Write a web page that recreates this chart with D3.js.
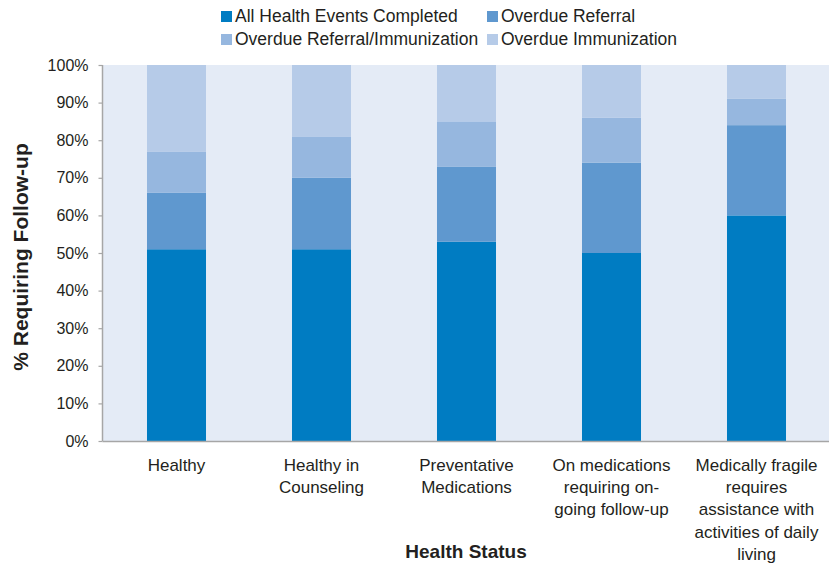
<!DOCTYPE html>
<html>
<head>
<meta charset="utf-8">
<script src="https://cdn.jsdelivr.net/npm/d3@7"></script>
<style>
  html, body { margin: 0; padding: 0; background: #ffffff; }
  svg { display: block; font-family: "Liberation Sans", Arial, Helvetica, sans-serif; }
</style>
</head>
<body>
<svg id="chart" width="833" height="563"></svg>
<script>
// Health status categories (each label split into display lines)
const categories = [
  ["Healthy"],
  ["Healthy in", "Counseling"],
  ["Preventative", "Medications"],
  ["On medications", "requiring on-", "going follow-up"],
  ["Medically fragile", "requires", "assistance with", "activities of daily", "living"]
];

// Series names, bottom to top of each stack
const seriesNames = [
  "All Health Events Completed",
  "Overdue Referral",
  "Overdue Referral/Immunization",
  "Overdue Immunization"
];

// Percent of students in each series, one value per category
const allCompleted      = [51, 51, 53, 50, 60];
const overdueReferral   = [15, 19, 20, 24, 24];
const overdueRefImm     = [11, 11, 12, 12, 7];
const overdueImm        = [23, 19, 15, 14, 9];

const yTicks = [0, 10, 20, 30, 40, 50, 60, 70, 80, 90, 100];

const colors = ["#007cc2", "#5f98cf", "#96b7df", "#b6cbe8"];

const seriesValues = [allCompleted, overdueReferral, overdueRefImm, overdueImm];
const rows = categories.map((c, i) => {
  const r = { key: i };
  seriesNames.forEach((s, j) => { r[s] = seriesValues[j][i]; });
  return r;
});

const svg = d3.select("#chart");
const margin = { left: 103, right: 4, top: 65, bottom: 122 };
const W = 833, H = 563;
const x0 = margin.left, x1 = W - margin.right;
const y0 = H - margin.bottom, y1 = margin.top;

const x = d3.scaleBand()
  .domain(d3.range(categories.length))
  .range([x0 + 1, x1])
  .paddingInner(0.593)
  .paddingOuter(0.2965);

const y = d3.scaleLinear().domain([0, 100]).range([y0, y1]);

// Plot background
svg.append("rect")
  .attr("x", x0).attr("y", y1)
  .attr("width", x1 - x0).attr("height", y0 - y1)
  .attr("fill", "#e4ebf6");

// Stacked bars
const stacked = d3.stack().keys(seriesNames)(rows);
svg.append("g").selectAll("g")
  .data(stacked)
  .join("g")
  .attr("fill", (d, i) => colors[i])
  .selectAll("rect")
  .data(d => d)
  .join("rect")
  .attr("x", d => x(d.data.key))
  .attr("width", x.bandwidth())
  .attr("y", d => y(d[1]))
  .attr("height", d => y(d[0]) - y(d[1]));

// Y axis
const yAxis = svg.append("g")
  .attr("transform", `translate(${x0 - 0.5},0)`)
  .call(d3.axisLeft(y).tickValues(yTicks).tickFormat(d => d + "%").tickSize(4).tickPadding(10));
yAxis.select(".domain").attr("stroke", "#a6a6a6").attr("stroke-width", 1.5).attr("d", `M0,${y1}V${y0}`);
yAxis.selectAll(".tick line").attr("stroke", "#a6a6a6").attr("stroke-width", 1.2);
yAxis.selectAll(".tick text").attr("font-size", 16).attr("fill", "#231f20");

// X axis baseline
svg.append("line")
  .attr("x1", x0 - 0.5).attr("x2", x1)
  .attr("y1", y0 + 0.5).attr("y2", y0 + 0.5)
  .attr("stroke", "#a6a6a6").attr("stroke-width", 1.5);

// Category labels
const catG = svg.append("g").attr("font-size", 17).attr("fill", "#231f20").attr("text-anchor", "middle");
categories.forEach((lines, i) => {
  const t = catG.append("text")
    .attr("x", x(i) + x.bandwidth() / 2)
    .attr("y", y0 + 30);
  lines.forEach((ln, k) => {
    t.append("tspan")
      .attr("x", x(i) + x.bandwidth() / 2)
      .attr("dy", k === 0 ? 0 : 22.2)
      .text(ln);
  });
});

// Axis titles
svg.append("text")
  .attr("x", (x0 + x1) / 2)
  .attr("y", 558)
  .attr("text-anchor", "middle")
  .attr("font-size", 19)
  .attr("font-weight", "bold")
  .attr("fill", "#231f20")
  .text("Health Status");

svg.append("text")
  .attr("transform", `translate(28,${(y0 + y1) / 2 + 4}) rotate(-90)`)
  .attr("text-anchor", "middle")
  .attr("font-size", 21)
  .attr("font-weight", "bold")
  .attr("fill", "#231f20")
  .text("% Requiring Follow-up");

// Legend (two rows, two columns)
const legendPos = [
  { x: 221, y: 16 }, { x: 487, y: 16 },
  { x: 221, y: 39 }, { x: 487, y: 39 }
];
const leg = svg.append("g");
seriesNames.forEach((s, i) => {
  const p = legendPos[i];
  leg.append("rect")
    .attr("x", p.x).attr("y", p.y - 5)
    .attr("width", 11).attr("height", 11)
    .attr("fill", colors[i]);
  leg.append("text")
    .attr("x", p.x + 14).attr("y", p.y + 6)
    .attr("font-size", 17.5)
    .attr("fill", "#231f20")
    .text(s);
});
</script>
</body>
</html>
